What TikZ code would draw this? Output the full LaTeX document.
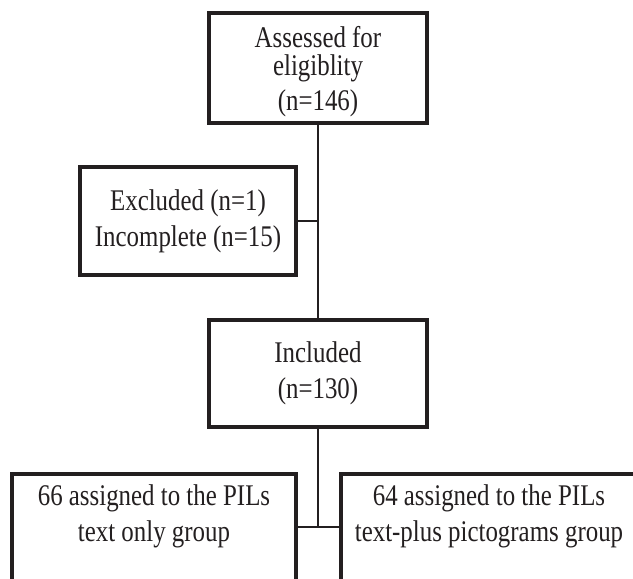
\documentclass[tikz,border=0pt]{standalone}
\usepackage{fontspec}
\setmainfont{Liberation Serif}[FakeStretch=0.83]
\usepackage{tikz}
\definecolor{flowInk}{HTML}{231F20}
\newcommand{\flowfont}{\fontsize{30}{36}\selectfont}
\tikzset{
  flowbox/.style={draw=flowInk,line width=4pt,fill=white,align=center,
    font=\flowfont,text=flowInk,inner sep=0pt},
  groupbox/.style={flowbox,anchor=north,text height=53pt,text depth=60pt,
    inner ysep=14pt},
  link/.style={draw=flowInk,line width=2pt}
}

\begin{document}
\begin{tikzpicture}[x=1pt,y=1pt]
  \useasboundingbox (0,0) rectangle (633,-579);

  \node[flowbox, text depth=-6pt, minimum width=218pt, minimum height=110pt] (assess) at (318,-68)
    {Assessed for\\[-8pt]eligiblity\\[-1pt](n=146)};
  \node[flowbox, minimum width=216pt, minimum height=108pt] (excl) at (188,-221)
    {Excluded (n=1)\\Incomplete (n=15)};
  \node[flowbox, minimum width=218pt, minimum height=107pt] (incl) at (318,-373.5)
    {Included\\(n=130)};

  \node[groupbox, minimum width=284pt] (textonly) at (154,-472)
    {66 assigned to the PILs\\text only group};
  \node[groupbox, minimum width=296pt] (textplus) at (489,-472)
    {64 assigned to the PILs\\text-plus pictograms group};

  \coordinate (split) at (318,-527);

  \draw[link] (assess) -- (incl);
  \draw[link] (excl.east) -- (excl.east -| assess.south);
  \draw[link] (incl) -- (split);
  \draw[link] (textonly.east |- split) -- (textplus.west |- split);
\end{tikzpicture}
\end{document}
